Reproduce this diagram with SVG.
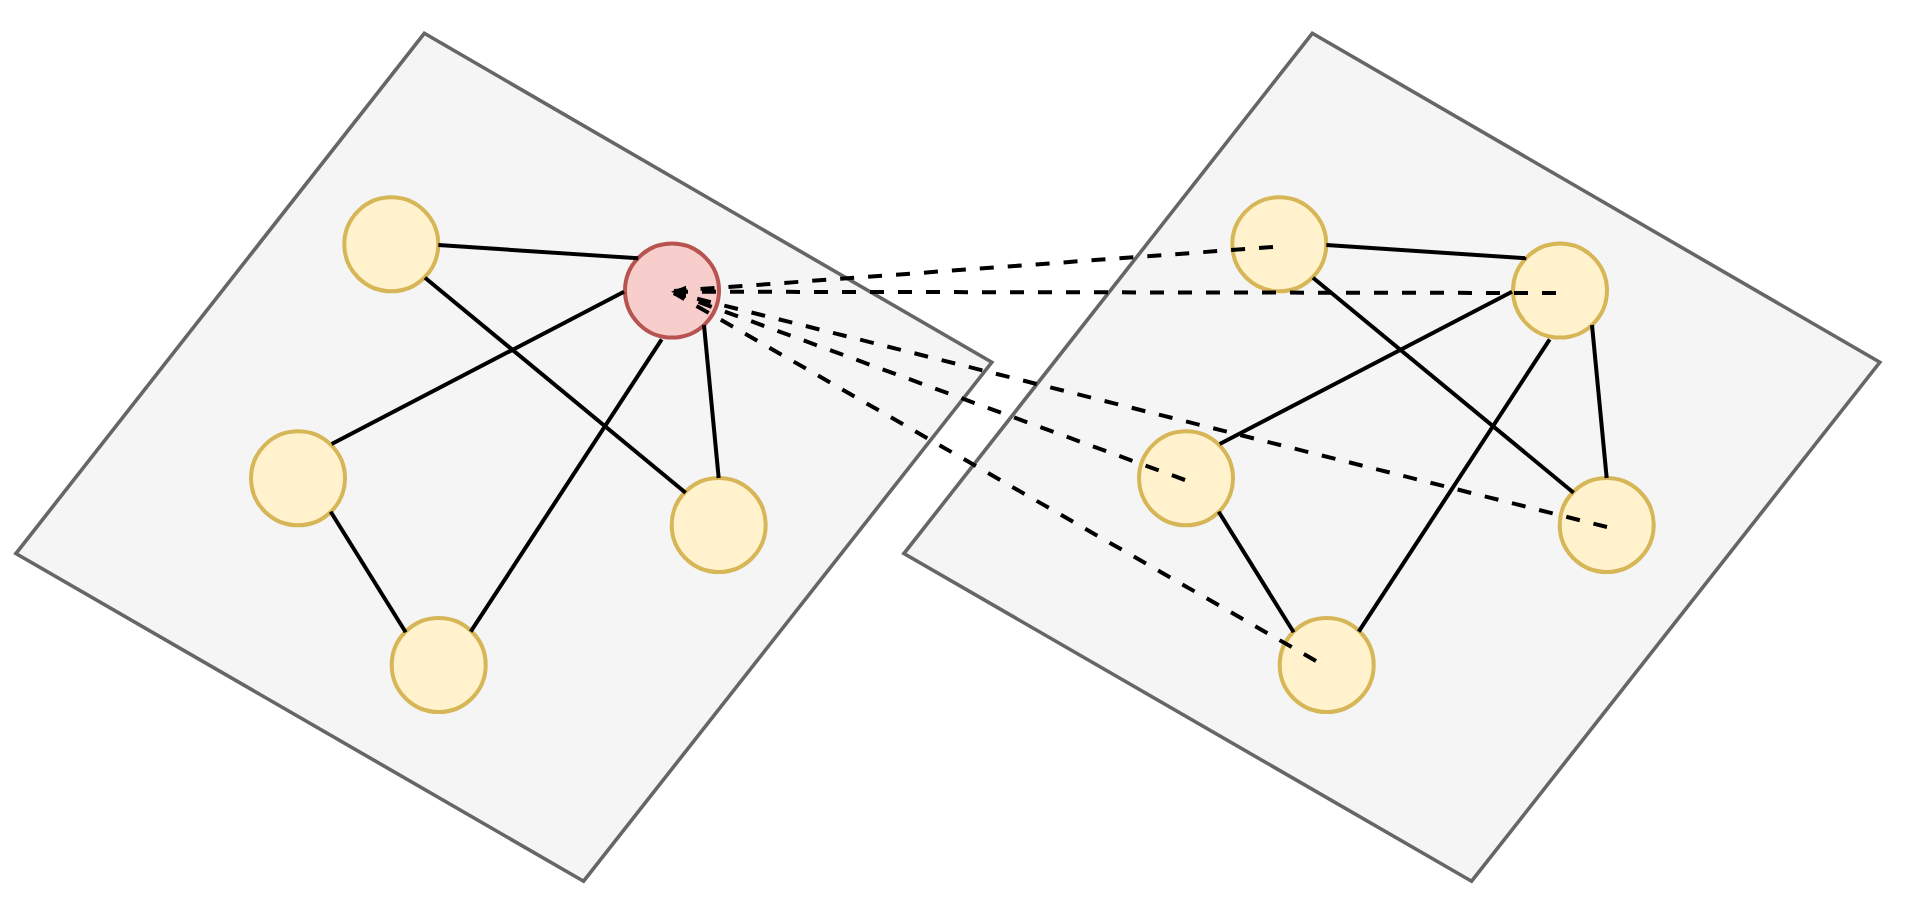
<svg xmlns="http://www.w3.org/2000/svg" width="1914" height="909" viewBox="0 0 1914 909">
<style>
.panel{fill:#f5f5f5;stroke:#666666;stroke-width:3.6}
.node{fill:#fff2cc;stroke:#d6b656;stroke-width:4}
.hub{fill:#f8cecc;stroke:#b85450;stroke-width:4}
.edge{stroke:#000;stroke-width:4;fill:none;stroke-linecap:butt}
.dash{stroke:#000;stroke-width:4;fill:none;stroke-dasharray:14 14}
</style>
<defs>
<marker id="arrow" markerUnits="userSpaceOnUse" markerWidth="18" markerHeight="14" viewBox="0 0 18 14" refX="16" refY="7" orient="auto">
<path d="M1,1 L16,7 L1,13 z" fill="#000"/>
</marker>
</defs>
<rect width="1914" height="909" fill="#ffffff"/>
<g id="panel-left"><polygon class="panel" points="424.3,33.3 991.8,362.3 583.6,881.2 15.9,553.6"/></g>
<g id="panel-right"><polygon class="panel" points="1312.3,33.3 1879.8,362.3 1471.6,881.2 903.9,553.6"/></g>
<g id="left-a"><circle class="node" cx="391.3" cy="244.3" r="47"/></g>
<g id="left-b"><circle class="hub" cx="672" cy="290.6" r="47"/></g>
<g id="left-c"><circle class="node" cx="298" cy="478.3" r="47"/></g>
<g id="left-d"><circle class="node" cx="718.7" cy="525" r="47"/></g>
<g id="left-e"><circle class="node" cx="438.7" cy="665" r="47"/></g>
<g id="right-a"><circle class="node" cx="1279.3" cy="244.3" r="47"/></g>
<g id="right-b"><circle class="node" cx="1560" cy="290.6" r="47"/></g>
<g id="right-c"><circle class="node" cx="1186" cy="478.3" r="47"/></g>
<g id="right-d"><circle class="node" cx="1606.7" cy="525" r="47"/></g>
<g id="right-e"><circle class="node" cx="1326.7" cy="665" r="47"/></g>
<g id="connectors">
<line class="edge" x1="438.3" y1="245" x2="638.3" y2="258.3"/>
<line class="edge" x1="425" y1="277.7" x2="685.6" y2="492.7"/>
<line class="edge" x1="624" y1="291.7" x2="331.7" y2="444"/>
<line class="edge" x1="661.7" y1="339.3" x2="470.7" y2="631.7"/>
<line class="edge" x1="704" y1="325" x2="718.7" y2="478"/>
<line class="edge" x1="330.7" y1="511.7" x2="405.7" y2="632.3"/>
<line class="edge" x1="1326.3" y1="245" x2="1526.3" y2="258.3"/>
<line class="edge" x1="1313" y1="277.7" x2="1573.6" y2="492.7"/>
<line class="edge" x1="1512" y1="291.7" x2="1219.7" y2="444"/>
<line class="edge" x1="1549.7" y1="339.3" x2="1358.7" y2="631.7"/>
<line class="edge" x1="1592" y1="325" x2="1606.7" y2="478"/>
<line class="edge" x1="1218.7" y1="511.7" x2="1293.7" y2="632.3"/>
<line class="dash" x1="1273" y1="247" x2="674" y2="291"/>
<line class="dash" x1="1556" y1="293" x2="671" y2="291.7" marker-end="url(#arrow)"/>
<line class="dash" x1="1185" y1="480" x2="674" y2="293"/>
<line class="dash" x1="1607" y1="527" x2="674" y2="293"/>
<line class="dash" x1="1316" y1="661" x2="674" y2="293"/>
</g>
</svg>
